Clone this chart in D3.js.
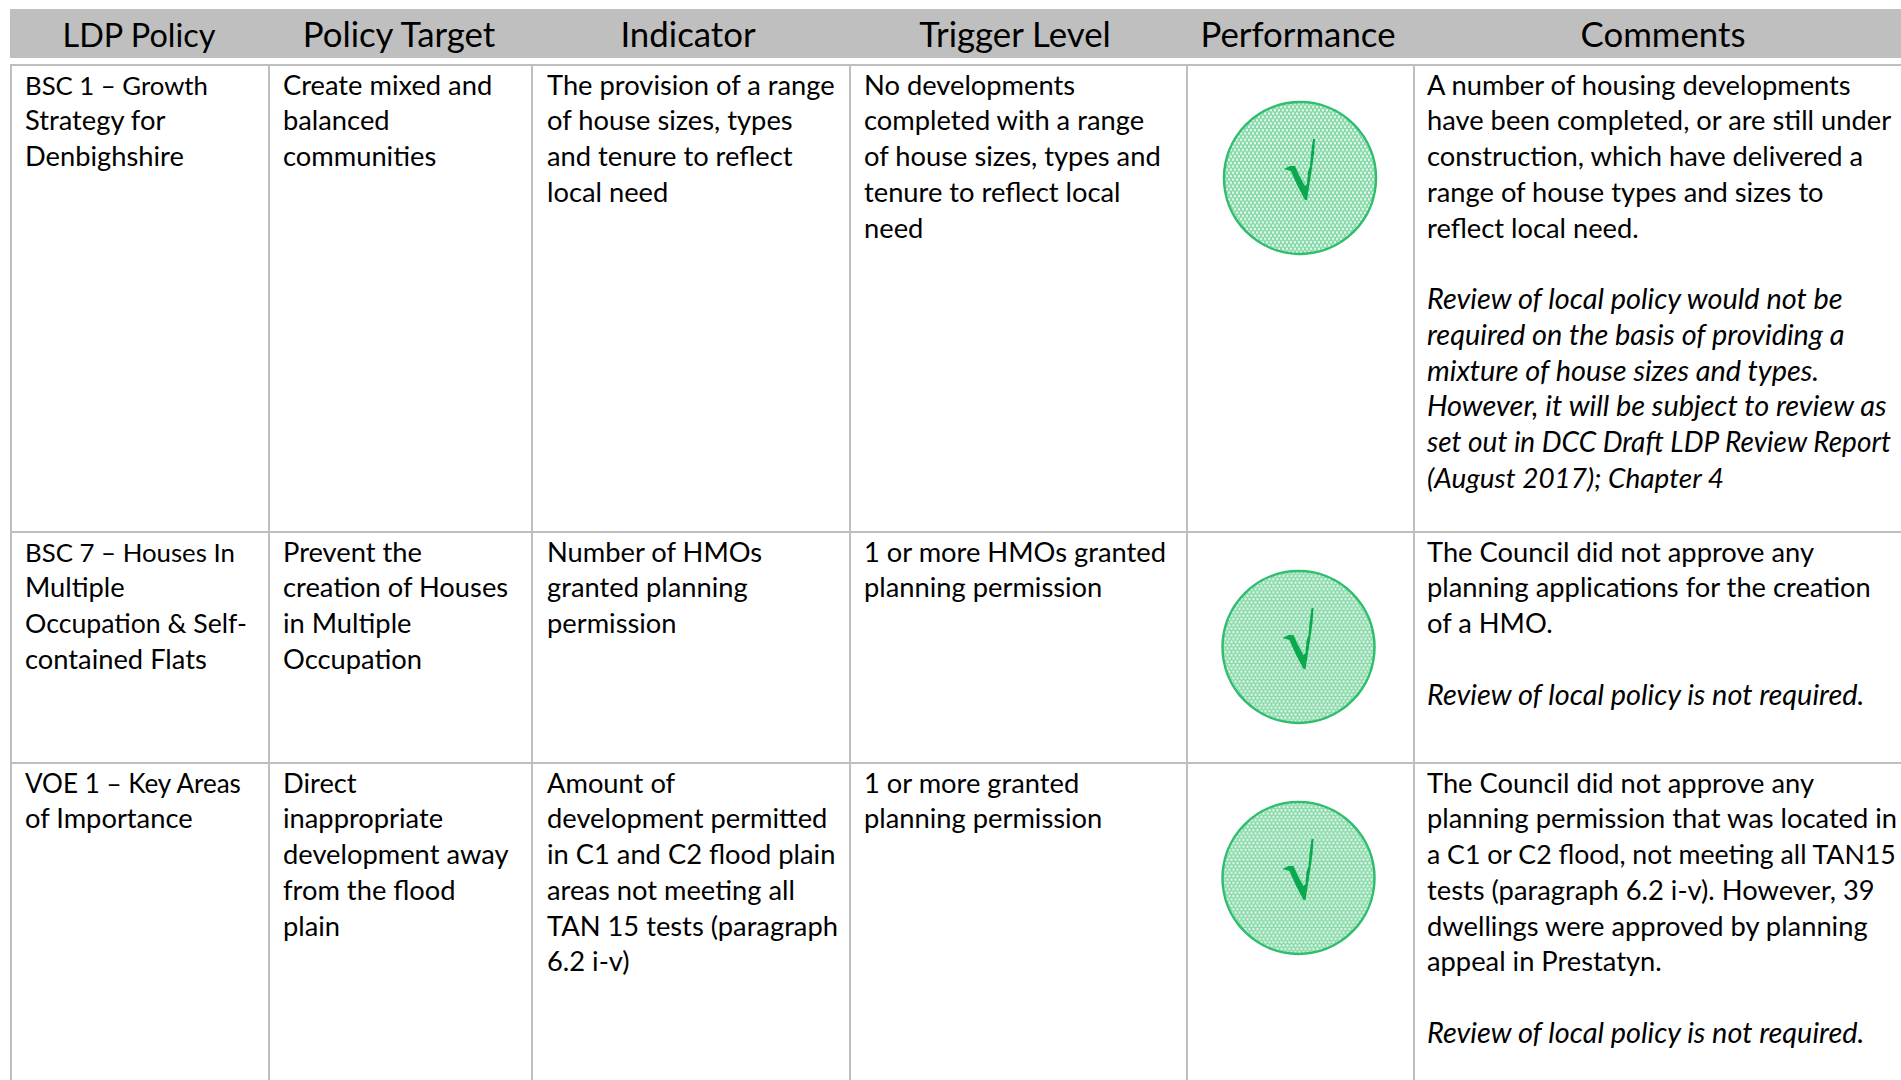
<!DOCTYPE html>
<html>
<head>
<meta charset="utf-8">
<script src="https://cdn.jsdelivr.net/npm/d3@7"></script>
<style>
  html, body { margin: 0; padding: 0; background: #fff; overflow: hidden; }
  text { font-family: Lato, "Open Sans", sans-serif; fill: #000; }
</style>
</head>
<body>
<div id="chart"></div>
<script>
// Table content, one line of text per entry so the breaks match the picture
const headers = ['LDP Policy', 'Policy Target', 'Indicator', 'Trigger Level', 'Performance', 'Comments'];
const rowIds = ['bsc1', 'bsc7', 'voe1'];
const ldpPolicy = [
  ['BSC 1 – Growth', 'Strategy for', 'Denbighshire'],
  ['BSC 7 – Houses In', 'Multiple', 'Occupation & Self-', 'contained Flats'],
  ['VOE 1 – Key Areas', 'of Importance']
];
const policyTarget = [
  ['Create mixed and', 'balanced', 'communities'],
  ['Prevent the', 'creation of Houses', 'in Multiple', 'Occupation'],
  ['Direct', 'inappropriate', 'development away', 'from the flood', 'plain']
];
const indicator = [
  ['The provision of a range', 'of house sizes, types', 'and tenure to reflect', 'local need'],
  ['Number of HMOs', 'granted planning', 'permission'],
  ['Amount of', 'development permitted', 'in C1 and C2 flood plain', 'areas not meeting all', 'TAN 15 tests (paragraph', '6.2 i-v)']
];
const triggerLevel = [
  ['No developments', 'completed with a range', 'of house sizes, types and', 'tenure to reflect local', 'need'],
  ['1 or more HMOs granted', 'planning permission'],
  ['1 or more granted', 'planning permission']
];
const commentsPlain = [
  ['A number of housing developments', 'have been completed, or are still under', 'construction, which have delivered a', 'range of house types and sizes to', 'reflect local need.'],
  ['The Council did not approve any', 'planning applications for the creation', 'of a HMO.'],
  ['The Council did not approve any', 'planning permission that was located in', 'a C1 or C2 flood, not meeting all TAN15', 'tests (paragraph 6.2 i-v). However, 39', 'dwellings were approved by planning', 'appeal in Prestatyn.']
];
const commentsItalic = [
  ['Review of local policy would not be', 'required on the basis of providing a', 'mixture of house sizes and types.', 'However, it will be subject to review as', 'set out in DCC Draft LDP Review Report', '(August 2017); Chapter 4'],
  ['Review of local policy is not required.'],
  ['Review of local policy is not required.']
];

// Layout
const width = 1901;
const height = 1080;
const lineGap = 35.75;
const bodySize = 27.3;
const italicSize = 28.9;
const headSize = 34.8;
const gridColor = '#bfbfbf';

// column edges and row edges of the grid
const x = d3.scaleOrdinal().domain(headers).range([11, 269, 532, 850, 1187, 1414]);
const headX = d3.scaleOrdinal().domain(headers).range([139, 399, 688, 1015, 1298, 1663]);
const y = d3.scaleOrdinal().domain(rowIds).range([65, 532, 763]);
const badgeX = d3.scaleOrdinal().domain(rowIds).range([1300, 1298.5, 1298.5]);
const badgeY = d3.scaleOrdinal().domain(rowIds).range([178, 647, 878]);
const textX = d3.scaleOrdinal().domain(headers).range([25, 283, 547, 864, 0, 1427]);

// Lato runs wider than the original font on capitals, these lines get shrunk to fit
const fitWidths = new Map([
  ['LDP Policy', 153],
  ['BSC 1 – Growth', 183],
  ['BSC 7 – Houses In', 210],
  ['VOE 1 – Key Areas', 216],
  ['Occupation & Self-', 222],
  ['set out in DCC Draft LDP Review Report', 464],
  ['a C1 or C2 flood, not meeting all TAN15', 469],
  ['(August 2017); Chapter 4', 297]
]);

function shrinkToFit(sel) {
  sel.filter(d => fitWidths.has(d)).each(function (d) {
    const size = parseFloat(this.style.fontSize);
    this.style.fontSize = size * fitWidths.get(d) / this.getComputedTextLength() + 'px';
  });
}

const svg = d3.select('#chart')
  .append('svg')
  .attr('width', width)
  .attr('height', height)
  .style('display', 'block');

// dotted fill of the badges
const defs = svg.append('defs');
const dots = defs.append('pattern')
  .attr('id', 'dots')
  .attr('patternUnits', 'userSpaceOnUse')
  .attr('width', 4)
  .attr('height', 6.6);
dots.append('rect').attr('width', 4).attr('height', 6.6).attr('fill', '#86d9a8');
dots.append('circle').attr('cx', 1).attr('cy', 1.6).attr('r', 1.25).attr('fill', '#e6f8ed');
dots.append('circle').attr('cx', 3).attr('cy', 4.9).attr('r', 1.25).attr('fill', '#e6f8ed');

// header band
svg.append('rect')
  .attr('x', 10).attr('y', 9)
  .attr('width', width - 10).attr('height', 49)
  .attr('fill', gridColor);

svg.selectAll('.head')
  .data(headers)
  .enter()
  .append('text')
  .attr('class', 'head')
  .attr('x', d => headX(d))
  .attr('y', 47)
  .attr('text-anchor', 'middle')
  .style('font-size', headSize + 'px')
  .text(d => d)
  .call(shrinkToFit);

// grid lines
svg.selectAll('.hline')
  .data(rowIds)
  .enter()
  .append('line')
  .attr('class', 'hline')
  .attr('x1', 10).attr('x2', width)
  .attr('y1', d => y(d)).attr('y2', d => y(d))
  .attr('stroke', gridColor).attr('stroke-width', 2);

svg.selectAll('.vline')
  .data(headers)
  .enter()
  .append('line')
  .attr('class', 'vline')
  .attr('x1', d => x(d)).attr('x2', d => x(d))
  .attr('y1', 64).attr('y2', height)
  .attr('stroke', gridColor).attr('stroke-width', 2);

// writes lines into a cell
function cellText(col, row, lines, startLine, italic) {
  svg.append('g')
    .selectAll('text')
    .data(lines)
    .enter()
    .append('text')
    .attr('x', textX(col))
    .attr('y', (d, i) => y(row) + 29.5 + (startLine + i) * lineGap)
    .style('font-size', (italic ? italicSize : bodySize) + 'px')
    .style('font-style', italic ? 'italic' : 'normal')
    .text(d => d)
    .call(shrinkToFit);
}

rowIds.forEach((row, i) => {
  cellText('LDP Policy', row, ldpPolicy[i], 0, false);
  cellText('Policy Target', row, policyTarget[i], 0, false);
  cellText('Indicator', row, indicator[i], 0, false);
  cellText('Trigger Level', row, triggerLevel[i], 0, false);
  cellText('Comments', row, commentsPlain[i], 0, false);
  cellText('Comments', row, commentsItalic[i], commentsPlain[i].length + 1, true);
});

// performance badges
const badge = svg.selectAll('.badge')
  .data(rowIds)
  .enter()
  .append('g')
  .attr('class', 'badge')
  .attr('transform', d => `translate(${badgeX(d)},${badgeY(d)})`);

badge.append('circle')
  .attr('r', 76)
  .attr('fill', 'url(#dots)')
  .attr('stroke', '#2fbd6e')
  .attr('stroke-width', 2.5);

// tick glyph: thick down stroke, thin up stroke
badge.append('path')
  .attr('d', 'M-16,-9 L-10,-12 L-5,-12 L-1,-3 L5,8 L7,6 L8,-6 L10,-12 L11,-24 L13,-39 L15,-39 L14,-24 L12,-10 L10,3 L7,22 L5,22 L-3,7 L-9,-7 Z')
  .attr('fill', '#0aa84f');
</script>
</body>
</html>
